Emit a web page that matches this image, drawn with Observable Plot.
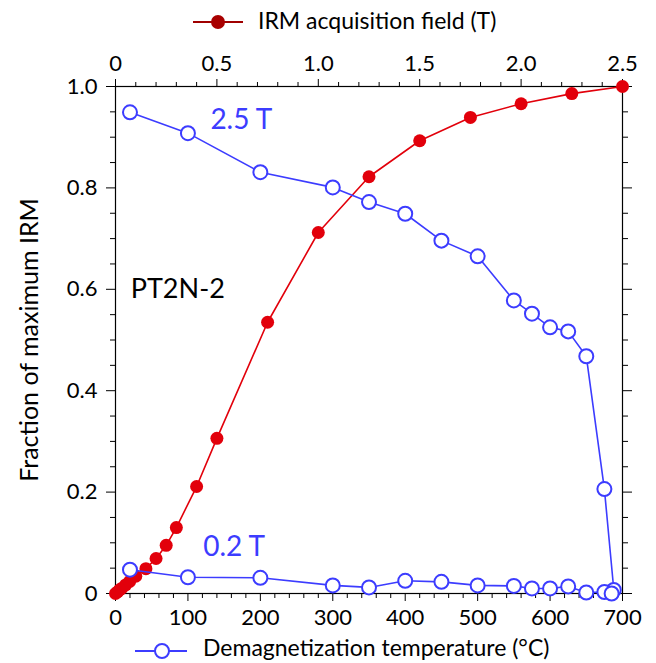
<!DOCTYPE html>
<html>
<head>
<meta charset="utf-8">
<script src="https://cdn.jsdelivr.net/npm/d3@7"></script>
<script src="https://cdn.jsdelivr.net/npm/@observablehq/plot@0.6"></script>
<style>
  html, body { margin: 0; padding: 0; background: #fff; }
  #wrap { position: relative; width: 656px; height: 663px; font-family: Lato, "Noto Sans", sans-serif; color: #000; overflow: hidden; }
  #chart { position: absolute; left: 0; top: 40px; }
  .leg { position: absolute; white-space: nowrap; font-size: 23px; line-height: 23px; }
  .icon { position: absolute; }
</style>
</head>
<body>
<div id="wrap">
  <svg class="icon" style="left:191px;top:12px" width="54" height="20">
    <line x1="2" y1="10" x2="52" y2="10" stroke="#a00000" stroke-width="2"/>
    <circle cx="27" cy="10" r="7" fill="#a80000"/>
  </svg>
  <div class="leg" id="legTop" style="left:258px;top:9px">IRM acquisition field (T)</div>
  <div id="chart"></div>
  <svg class="icon" style="left:133px;top:641px" width="56" height="20">
    <line x1="2" y1="10" x2="54" y2="10" stroke="#3c3cff" stroke-width="2"/>
    <circle cx="29" cy="10" r="7" fill="#fff" stroke="#3c3cff" stroke-width="2"/>
  </svg>
  <div class="leg" id="legBot" style="left:203px;top:636px">Demagnetization temperature (°C)</div>
</div>
<script>
// IRM acquisition (top axis, field in T)
const fieldT = [0, 0.01, 0.02, 0.03, 0.05, 0.07, 0.1, 0.15, 0.2, 0.25, 0.3, 0.4, 0.5, 0.75, 1.0, 1.25, 1.5, 1.75, 2.0, 2.25, 2.5];
const irmFrac = [0, 0.003, 0.007, 0.010, 0.017, 0.024, 0.034, 0.049, 0.069, 0.095, 0.130, 0.211, 0.306, 0.535, 0.712, 0.822, 0.893, 0.939, 0.966, 0.986, 1.0];

// Thermal demagnetization (bottom axis, temperature in °C)
const temps25 = [20, 100, 200, 300, 350, 400, 450, 500, 550, 575, 600, 625, 650, 675, 688];
const frac25 = [0.949, 0.908, 0.831, 0.801, 0.772, 0.749, 0.696, 0.665, 0.578, 0.552, 0.525, 0.517, 0.468, 0.206, 0.007];
const temps02 = [20, 100, 200, 300, 350, 400, 450, 500, 550, 575, 600, 625, 650, 675, 685];
const frac02 = [0.047, 0.032, 0.031, 0.016, 0.012, 0.025, 0.023, 0.016, 0.015, 0.010, 0.010, 0.014, 0.002, 0.003, 0.000];

const tempTicks = [0, 100, 200, 300, 400, 500, 600, 700];
const fieldTicks = [0, 0.5, 1.0, 1.5, 2.0, 2.5];
const fracTicks = [0, 0.2, 0.4, 0.6, 0.8, 1.0];

const annotations = [
  {text: "2.5 T", temp: 131, frac: 0.933, color: "#3c3cff", size: 28},
  {text: "0.2 T", temp: 121, frac: 0.091, color: "#3c3cff", size: 28},
  {text: "PT2N-2", temp: 21, frac: 0.600, color: "#000", size: 27}
];

const fieldToTemp = 700 / 2.5;
const irm = fieldT.map((f, i) => ({x: f * fieldToTemp, y: irmFrac[i]}));
const d25 = temps25.map((t, i) => ({x: t, y: frac25[i]}));
const d02 = temps02.map((t, i) => ({x: t, y: frac02[i]}));

const red = "#e2000b";
const blue = "#3c3cff";
const fmt = d => d === 0 ? "0" : d.toFixed(1);
const none = () => "";
const minorTemp = d3.range(0, 701, 20).filter(t => t % 100 !== 0);
const minorField = d3.range(0, 26).filter(i => i % 5 !== 0).map(i => i * 0.1 * fieldToTemp);
const minorFrac = d3.range(0, 21).filter(i => i % 4 !== 0).map(i => i * 0.05);

const chart = Plot.plot({
  width: 656,
  height: 600,
  marginLeft: 115,
  marginRight: 34,
  marginTop: 46,
  marginBottom: 47,
  style: {fontFamily: "Lato, 'Noto Sans', sans-serif", fontSize: "21px", color: "#000", background: "#fff"},
  x: {domain: [0, 700]},
  y: {domain: [0, 1]},
  marks: [
    // bottom axis
    Plot.axisX({anchor: "bottom", ticks: tempTicks, tickSize: 8, tickPadding: 8, tickFormat: d => String(d), label: null, fontSize: 22}),
    Plot.axisX({anchor: "bottom", ticks: minorTemp, tickSize: 5, tickFormat: none, label: null}),
    // top axis (field)
    Plot.axisX({anchor: "top", ticks: fieldTicks.map(f => f * fieldToTemp), tickSize: 8, tickPadding: 8, tickFormat: d => fmt(d / fieldToTemp), label: null, fontSize: 22}),
    Plot.axisX({anchor: "top", ticks: minorField, tickSize: 5, tickFormat: none, label: null}),
    // left axis
    Plot.axisY({anchor: "left", ticks: fracTicks, tickSize: 9, tickPadding: 9, tickFormat: fmt, label: null, fontSize: 22}),
    Plot.axisY({anchor: "left", ticks: minorFrac, tickSize: 5, tickFormat: none, label: null}),
    // right axis
    Plot.axisY({anchor: "right", ticks: fracTicks, tickSize: 9, tickFormat: none, label: null}),
    Plot.axisY({anchor: "right", ticks: minorFrac, tickSize: 5, tickFormat: none, label: null}),
    Plot.frame({stroke: "#000", strokeWidth: 1.2}),
    Plot.text(["Fraction of maximum IRM"], {frameAnchor: "left", textAnchor: "middle", dx: -86, rotate: -90, fontSize: 25, fill: "#000"}),
    // IRM acquisition
    Plot.line(irm, {x: "x", y: "y", stroke: red, strokeWidth: 1.6}),
    Plot.dot(irm, {x: "x", y: "y", r: 6.5, fill: red, stroke: "none"}),
    // demagnetization
    Plot.line(d25, {x: "x", y: "y", stroke: blue, strokeWidth: 1.6}),
    Plot.line(d02, {x: "x", y: "y", stroke: blue, strokeWidth: 1.6}),
    Plot.dot(d25, {x: "x", y: "y", r: 7, fill: "#fff", stroke: blue, strokeWidth: 2}),
    Plot.dot(d02, {x: "x", y: "y", r: 7, fill: "#fff", stroke: blue, strokeWidth: 2}),
    Plot.text(annotations, {x: "temp", y: "frac", text: "text", fill: "color", fontSize: "size", textAnchor: "start"})
  ]
});
document.getElementById("chart").appendChild(chart);
</script>
</body>
</html>
